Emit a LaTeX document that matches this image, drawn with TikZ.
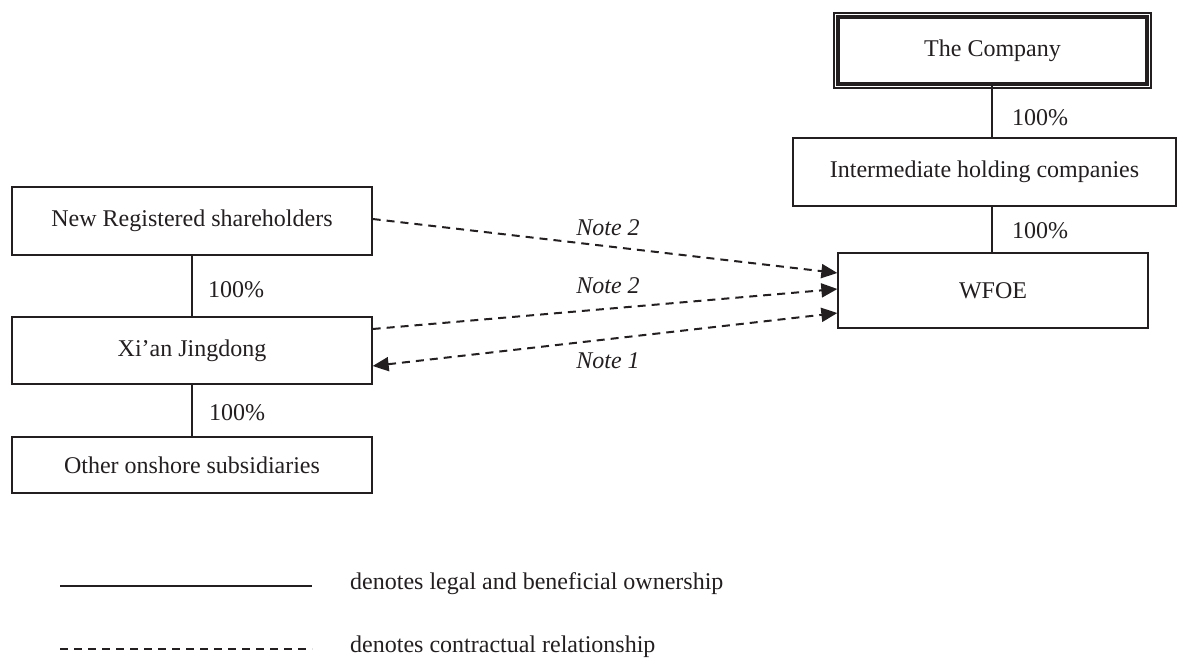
\documentclass[tikz,border=0pt]{standalone}
\usepackage{fontspec}
\setmainfont{Liberation Serif}
\usetikzlibrary{arrows.meta}
\definecolor{ink}{HTML}{231F20}
\begin{document}
\begin{tikzpicture}[x=1pt,y=-1pt,
  every node/.style={font=\fontsize{24}{28}\selectfont, text=ink},
  box/.style={draw=ink, line width=1.3pt, minimum width=360pt, inner sep=0pt},
  own/.style={draw=ink, line width=1.3pt},
  ctr/.style={draw=ink, line width=2pt, dash pattern=on 8pt off 6pt,
    -{Triangle[length=16pt,width=14pt]}},
  ctr2/.style={ctr, {Triangle[length=16pt,width=14pt]}-{Triangle[length=16pt,width=14pt]}},
  lbl/.style={inner sep=0pt},
  note/.style={inner sep=0pt, font=\fontsize{24}{28}\selectfont\itshape}]
\useasboundingbox (0,0) rectangle (1177,660);
\fill[white] (0,0) rectangle (1177,660);
% right column
\node[draw=ink, line width=4pt, minimum width=309pt, minimum height=67pt, inner sep=0pt] (co) at (992.5,50.5) {The Company};
\draw[ink, line width=1.2pt] ([shift={(-2,-2)}]co.north west) rectangle ([shift={(2,2)}]co.south east);
\node[box, minimum width=383pt, minimum height=68pt] (ih) at (984.5,172) {Intermediate holding companies};
\node[box, minimum width=310pt, minimum height=75pt] (wf) at (993,290.5) {WFOE};
\draw[own] (co.south -| 992,0) -- (ih.north -| 992,0);
\draw[own] (ih.south -| 992,0) -- (wf.north -| 992,0);
\node[lbl] (p1) at (1040,118) {100\%};
\node[lbl] (p2) at (1040,231) {100\%};
% left column
\node[box, minimum height=68pt] (nr) at (192,221) {New Registered shareholders};
\node[box, minimum height=67pt] (xa) at (192,350.5) {Xi’an Jingdong};
\node[box, minimum height=56pt] (os) at (192,465) {Other onshore subsidiaries};
\draw[own] (nr) -- (xa);
\draw[own] (xa) -- (os);
\node[lbl] (p3) at (236,290) {100\%};
\node[lbl] (p4) at (237,413) {100\%};
% contractual arrows
\draw[ctr] ([yshift=2pt]nr.east) -- ([yshift=17.5pt]wf.west);
\draw[ctr] ([yshift=21.5pt]xa.east) -- ([yshift=1.5pt]wf.west);
\draw[ctr2] ([yshift=-15.5pt]xa.east) -- ([yshift=-22.5pt]wf.west);
\node[note] (n1) at (608,228) {Note 2};
\node[note] (n2) at (608,286) {Note 2};
\node[note] (n3) at (608,361) {Note 1};
% legend
\coordinate (l1a) at (60,586);
\coordinate (l1b) at (312,586);
\coordinate (l2a) at (60,649);
\coordinate (l2b) at (312,649);
\draw[ink, line width=2pt] (l1a) -- (l1b);
\draw[ink, line width=2pt, dash pattern=on 8pt off 6pt] (l2a) -- (l2b);
\node[lbl, anchor=west] (t1) at (350,584) {denotes legal and beneficial ownership};
\node[lbl, anchor=west] (t2) at (350,647) {denotes contractual relationship};
\end{tikzpicture}
\end{document}
